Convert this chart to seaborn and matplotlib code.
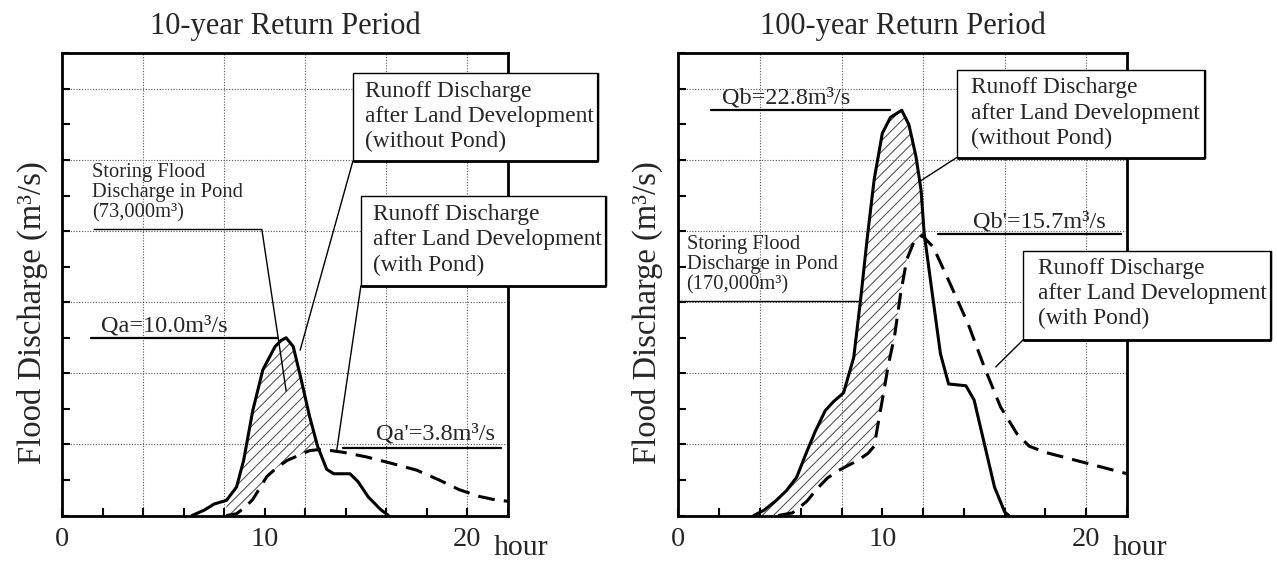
import matplotlib
matplotlib.use("Agg")
import matplotlib.pyplot as plt
from matplotlib.patches import Rectangle
import seaborn as sns
import numpy as np

# --- data (hour, m3/s) ---
sol10_t = [6.4, 7.0, 7.5, 8.1, 8.6, 8.95, 9.4, 9.9, 10.5, 10.8, 11.05, 11.4, 11.8, 12.2, 12.6,
           13.05, 13.4, 14.2, 14.6, 15.1, 15.7, 16.1]
sol10_q = [0.0, 0.3, 0.65, 0.85, 1.6, 3.1, 5.9, 8.2, 9.5, 9.85, 10.0, 9.5, 7.6, 5.6, 3.9,
           2.6, 2.35, 2.35, 1.9, 1.05, 0.35, 0.0]
pond10_t = [8.1, 8.6, 9.0, 9.4, 10.1, 10.6, 11.1, 11.7, 12.2, 12.6, 13.1, 13.9, 15.0, 16.2,
            17.5, 18.6, 19.6, 20.6, 21.3, 22.0]
pond10_q = [0.0, 0.1, 0.45, 0.9, 2.2, 2.7, 3.1, 3.4, 3.65, 3.7, 3.68, 3.55, 3.3, 2.95,
            2.55, 2.0, 1.45, 1.07, 0.9, 0.8]

sol100_t = [3.7, 4.2, 4.8, 5.3, 5.8, 6.3, 6.7, 7.2, 7.6, 8.1, 8.6, 8.95, 9.25, 9.6, 10.0,
            10.4, 10.95, 11.3, 11.65, 11.9, 12.05, 12.4, 12.85, 13.25, 14.1, 14.5, 15.0,
            15.5, 16.0, 16.2]
sol100_q = [0.0, 0.3, 0.85, 1.4, 2.15, 3.6, 4.7, 5.9, 6.4, 6.9, 8.9, 12.3, 15.5, 18.9, 21.5,
            22.4, 22.8, 22.0, 20.2, 18.3, 15.9, 12.9, 9.1, 7.4, 7.3, 6.5, 4.05,
            1.6, 0.2, 0.0]
pond100_t = [4.9, 5.6, 6.3, 6.8, 7.3, 7.8, 8.3, 8.8, 9.3, 9.6, 10.0, 10.3, 10.6, 10.9, 11.2,
             11.55, 11.95, 12.5, 13.3, 14.2, 15.0, 15.8, 16.6, 17.2, 18.0, 19.0, 20.0,
             21.0, 22.0]
pond100_q = [0.0, 0.15, 0.8, 1.5, 2.1, 2.5, 2.8, 3.1, 3.5, 3.9, 6.5, 8.5, 10.1, 12.5, 14.4,
             15.4, 15.75, 15.1, 13.1, 10.8, 8.35, 6.1, 4.6, 3.9, 3.55, 3.25, 2.95,
             2.65, 2.35]

titles = ["10-year Return Period", "100-year Return Period"]
peak_labels = ["Qa=10.0m³/s", "Qb=22.8m³/s"]
pond_peak_labels = ["Qa'=3.8m³/s", "Qb'=15.7m³/s"]
store_labels = ["Storing Flood\nDischarge in Pond\n(73,000m³)",
                "Storing Flood\nDischarge in Pond\n(170,000m³)"]
box_without = "Runoff Discharge\nafter Land Development\n(without Pond)"
box_with = "Runoff Discharge\nafter Land Development\n(with Pond)"
ylab = "Flood Discharge (m³/s)"

sns.set_theme(style="white")
plt.rcParams['font.family'] = ['Liberation Serif', 'DejaVu Serif']
plt.rcParams['hatch.linewidth'] = 0.7
plt.rcParams['hatch.color'] = '#444444'

fig = plt.figure(figsize=(12.77, 5.62), dpi=100)
ax1 = fig.add_axes([0.0488, 0.0827, 0.349, 0.8224])
ax2 = fig.add_axes([0.5312, 0.0827, 0.3514, 0.8224])


def base_axes(ax, title):
    ax.set_xlim(0, 22)
    ax.set_ylim(0, 26)
    for v in range(4, 22, 4):
        ax.axvline(v, color='#555555', lw=0.8, ls=(0, (1, 1.5)), zorder=0)
    for v in range(4, 26, 4):
        ax.axhline(v, color='#555555', lw=0.8, ls=(0, (1, 1.5)), zorder=0)
    ax.set_xticks(np.arange(0, 23, 2))
    ax.set_xticklabels([str(t) if t % 10 == 0 else '' for t in range(0, 23, 2)])
    ax.set_yticks(np.arange(0, 27, 2))
    ax.set_yticklabels([])
    ax.tick_params(axis='both', direction='in', length=6, width=1.5, color='black',
                   bottom=True, left=True, top=False, right=False)
    ax.tick_params(axis='x', labelsize=20.5, pad=8)
    for s in ax.spines.values():
        s.set_color('black')
        s.set_linewidth(2.0)
    ax.set_xlabel('')
    ax.set_ylabel('')
    ax.text(0.5, 1.058, title, transform=ax.transAxes, ha='center', va='center', fontsize=22)
    ax.text(-0.068, 0.44, ylab, transform=ax.transAxes, rotation=90,
            ha='center', va='center', fontsize=23.5)
    ax.text(22.65, -2.2, 'hour', ha='center', va='baseline', fontsize=21.5, clip_on=False)


def curves(ax, st, sq, pt, pq, hatch_from, hatch_to):
    sns.lineplot(x=st, y=sq, ax=ax, color='black', lw=2.2, sort=False)
    sns.lineplot(x=pt, y=pq, ax=ax, color='black', lw=2.2, sort=False)
    ax.lines[-1].set_dashes([5.5, 3.0])
    st, sq, pt, pq = map(np.asarray, (st, sq, pt, pq))
    ms = (st >= hatch_from) & (st <= hatch_to)
    mp = (pt >= hatch_from) & (pt <= hatch_to)
    px = np.concatenate([st[ms], pt[mp][::-1]])
    py = np.concatenate([sq[ms], pq[mp][::-1]])
    ax.fill(px, py, facecolor='none', edgecolor='#444444', hatch='///', lw=0, zorder=1)


def box(ax, x0, x1, y0, y1, text, tx, ty, lead_to, fs=16.8):
    r = Rectangle((x0, y1), x1 - x0, y0 - y1, facecolor='white', edgecolor='black',
                  lw=1.0, clip_on=False, zorder=8)
    ax.add_patch(r)
    ax.plot([x0, x1], [y1, y1], color='black', lw=2.0, clip_on=False, zorder=9,
            solid_capstyle='butt')
    ax.plot([x1, x1], [y1, y0], color='black', lw=1.6, clip_on=False, zorder=9,
            solid_capstyle='butt')
    ax.text(tx, ty, text, ha='left', va='center', fontsize=fs, linespacing=1.27,
            clip_on=False, zorder=10)
    ax.plot([x0, lead_to[0]], [y1, lead_to[1]], color='black', lw=1.0, clip_on=False, zorder=9)


# ---- left panel ----
base_axes(ax1, titles[0])
curves(ax1, sol10_t, sol10_q, pond10_t, pond10_q, 8.1, 12.65)
ax1.plot([1.41, 10.65], [10.0, 10.0], color='black', lw=1.6)
ax1.text(1.9, 10.38, peak_labels[0], ha='left', va='baseline', fontsize=17.5)
ax1.plot([13.86, 21.66], [3.79, 3.79], color='black', lw=1.6)
ax1.text(15.47, 4.26, pond_peak_labels[0], ha='left', va='baseline', fontsize=17.5)
ax1.text(1.48, 18.15, store_labels[0], ha='left', va='center', fontsize=14.8, linespacing=1.1)
ax1.plot([1.57, 9.85, 11.05], [16.09, 16.09, 7.0], color='black', lw=1.0)
box(ax1, 14.34, 26.42, 24.9, 19.92, box_without, 14.95, 22.45, (11.74, 9.3))
box(ax1, 14.74, 26.85, 17.99, 12.93, box_with, 15.36, 15.5, (13.55, 3.7))

# ---- right panel ----
base_axes(ax2, titles[1])
curves(ax2, sol100_t, sol100_q, pond100_t, pond100_q, 0, 12.05)
ax2.plot([1.6, 10.4], [22.84, 22.84], color='black', lw=1.6)
ax2.text(2.13, 23.18, peak_labels[1], ha='left', va='baseline', fontsize=17.5)
ax2.plot([12.73, 21.7], [15.82, 15.82], color='black', lw=1.6)
ax2.text(14.47, 16.18, pond_peak_labels[1], ha='left', va='baseline', fontsize=17.5)
ax2.text(0.4, 14.1, store_labels[1], ha='left', va='center', fontsize=14.8, linespacing=1.1)
ax2.plot([0.0, 8.93], [12.07, 12.07], color='black', lw=1.0)
box(ax2, 13.65, 25.83, 25.09, 20.14, box_without, 14.33, 22.62, (11.8, 18.77))
box(ax2, 16.92, 29.07, 14.88, 9.9, box_with, 17.61, 12.49, (15.56, 8.36))

plt.savefig("out.png", dpi=100)
plt.close()
